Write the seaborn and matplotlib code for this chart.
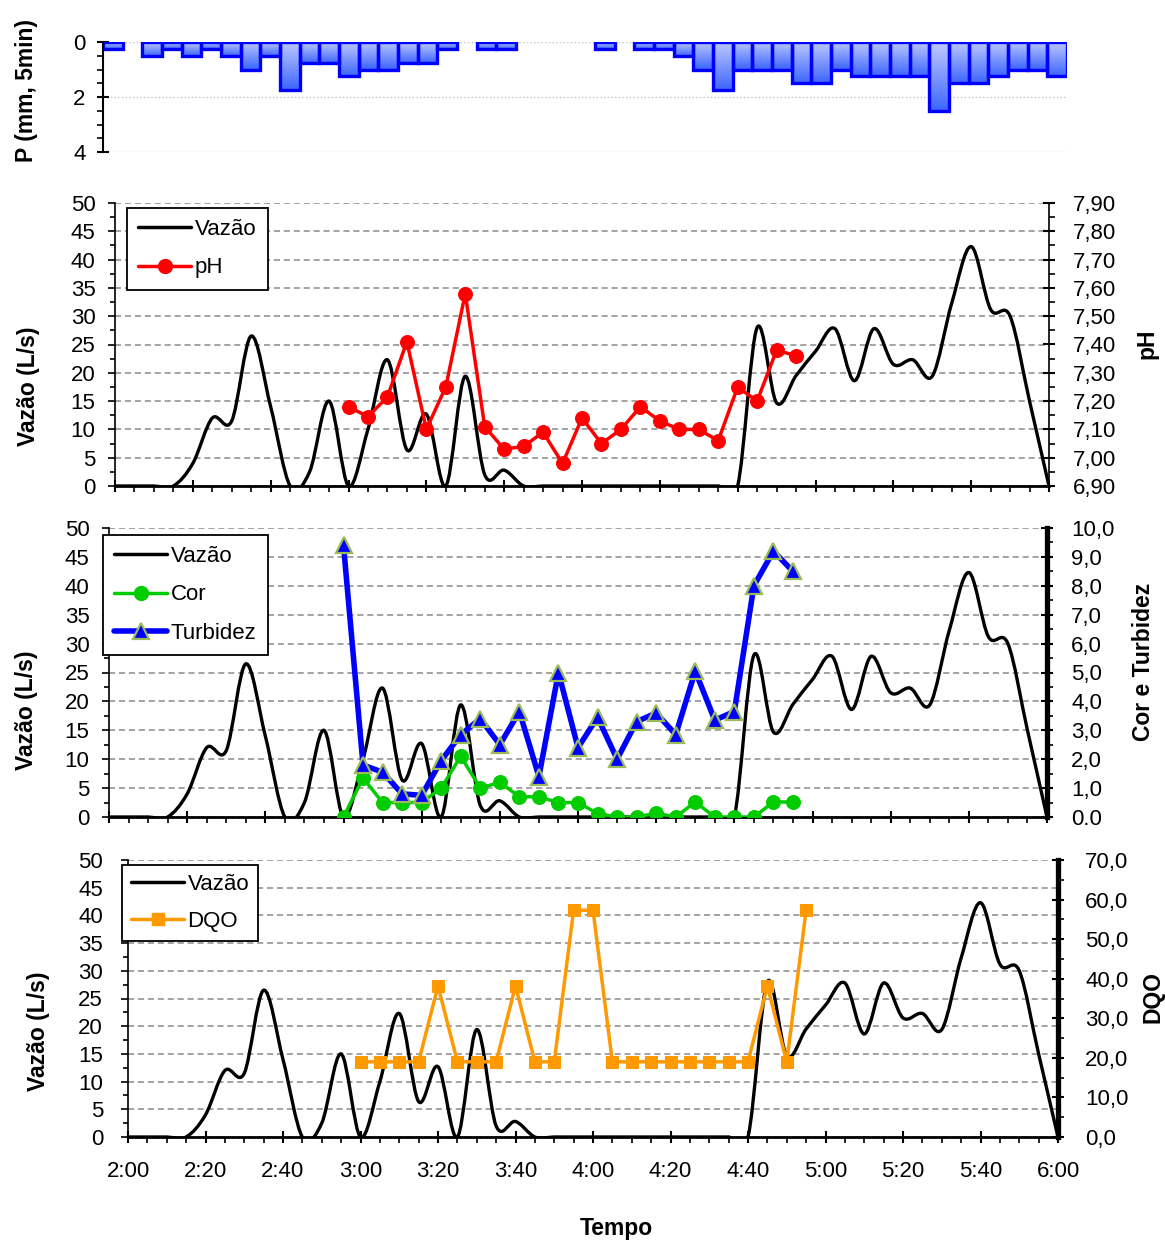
import numpy as np
import pandas as pd
import matplotlib
matplotlib.use("Agg")
import matplotlib.pyplot as plt
import seaborn as sns
from matplotlib.path import Path
from matplotlib.patches import PathPatch
from matplotlib.lines import Line2D
from matplotlib.ticker import MultipleLocator, FixedLocator, FixedFormatter

sns.set_theme(style="ticks")
plt.rcParams['font.family'] = ['Liberation Sans', 'DejaVu Sans']
plt.rcParams.update({'text.color': 'black', 'axes.labelcolor': 'black',
                     'xtick.color': 'black', 'ytick.color': 'black',
                     'axes.edgecolor': 'black'})

# ---------------- data ----------------
# precipitation per 5-min interval, 2:00 .. 6:00 (49 bars)
precip_mm = [0.25, 0, 0.5, 0.25, 0.5, 0.25, 0.5, 1.0, 0.5, 1.75, 0.75, 0.75, 1.25,
             1.0, 1.0, 0.75, 0.75, 0.25, 0, 0.25, 0.25, 0, 0, 0, 0, 0.25, 0,
             0.25, 0.25, 0.5, 1.0, 1.75, 1.0, 1.0, 1.0, 1.5, 1.5, 1.0, 1.25, 1.25,
             1.25, 1.25, 2.5, 1.5, 1.5, 1.25, 1.0, 1.0, 1.25]

# flow (minutes after 2:00)
vazao_min = list(range(0, 241, 5))
vazao = [0, 0, 0, 0, 4, 12, 11.5, 26.5, 14, 0, 2.5, 15, 0, 10, 22.3, 6.4, 12.7, 0,
         19.4, 2, 2.8, 0,
         0, 0, 0, 0, 0, 0, 0, 0, 0, 0,
         0, 28, 14.7, 19.5, 23.8, 27.8, 18.6, 27.8, 21.5, 22.3, 19.4, 32.3, 42.3,
         31.2, 30, 15, 0]

# water-quality samples 3:00 .. 4:55
quality_min = list(range(60, 176, 5))
ph = [7.18, 7.145, 7.215, 7.41, 7.10, 7.25, 7.58, 7.11, 7.03, 7.04, 7.09, 6.98,
      7.14, 7.05, 7.10, 7.18, 7.13, 7.10, 7.10, 7.06, 7.25, 7.20, 7.38, 7.36]
cor = [0.0, 1.35, 0.5, 0.5, 0.5, 1.0, 2.1, 1.0, 1.2, 0.7, 0.7, 0.5, 0.5, 0.12,
       0.0, 0.0, 0.13, 0.0, 0.52, 0.0, 0.0, 0.0, 0.52, 0.52]
turbidez = [9.4, 1.8, 1.55, 0.8, 0.75, 1.95, 2.85, 3.4, 2.5, 3.65, 1.4, 5.0, 2.4,
            3.45, 2.0, 3.3, 3.6, 2.85, 5.05, 3.35, 3.65, 8.0, 9.2, 8.5]
dqo = [19.0, 19.0, 19.0, 19.0, 38.2, 19.0, 19.0, 19.0, 38.2, 19.0, 19.0, 57.3,
       57.3, 19.0, 19.0, 19.0, 19.0, 19.0, 19.0, 19.0, 19.0, 38.2, 19.0, 57.3]

time_ticks = [0, 20, 40, 60, 80, 100, 120, 140, 160, 180, 200, 220, 240]
time_labels = ["2:00", "2:20", "2:40", "3:00", "3:20", "3:40", "4:00", "4:20",
               "4:40", "5:00", "5:20", "5:40", "6:00"]
ph_ticks = [6.9, 7.0, 7.1, 7.2, 7.3, 7.4, 7.5, 7.6, 7.7, 7.8, 7.9]
ph_labels = ["6,90", "7,00", "7,10", "7,20", "7,30", "7,40", "7,50", "7,60",
             "7,70", "7,80", "7,90"]
ct_ticks = [0, 1, 2, 3, 4, 5, 6, 7, 8, 9, 10]
ct_labels = ["0.0", "1,0", "2,0", "3,0", "4,0", "5,0", "6,0", "7,0", "8,0", "9,0",
             "10,0"]
dqo_ticks = [0, 10, 20, 30, 40, 50, 60, 70]
dqo_labels = ["0,0", "10,0", "20,0", "30,0", "40,0", "50,0", "60,0", "70,0"]

# ---------------- layout ----------------
W, H = 1165, 1241
fig = plt.figure(figsize=(W / 100, H / 100), dpi=100)


def rect(l, t, r, b):
    return [l / W, 1 - b / H, (r - l) / W, (b - t) / H]


FS = 16
GRID = dict(color='#8a8a8a', linestyle=(0, (4, 2.5)), linewidth=1.1)


def smooth_line(ax, x, y, **kw):
    x = np.asarray(x, float)
    y = np.asarray(y, float)
    n = len(x)
    verts = [(x[0], y[0])]
    codes = [Path.MOVETO]
    for i in range(n - 1):
        xm, ym = (x[i - 1], y[i - 1]) if i > 0 else (x[i], y[i])
        xp, yp = (x[i + 2], y[i + 2]) if i + 2 < n else (x[i + 1], y[i + 1])
        c1 = (x[i] + (x[i + 1] - xm) / 6, y[i] + (y[i + 1] - ym) / 6)
        c2 = (x[i + 1] - (xp - x[i]) / 6, y[i + 1] - (yp - y[i]) / 6)
        verts += [c1, c2, (x[i + 1], y[i + 1])]
        codes += [Path.CURVE4] * 3
    p = PathPatch(Path(verts, codes), fill=False, zorder=3, **kw)
    ax.add_patch(p)


def setup_flow_axis(ax, labels_on, lpad):
    ax.set_xlim(0, 240)
    ax.set_ylim(0, 50)
    ax.yaxis.set_major_locator(MultipleLocator(5))
    ax.yaxis.set_minor_locator(MultipleLocator(2.5))
    ax.xaxis.set_major_locator(FixedLocator(time_ticks))
    ax.xaxis.set_minor_locator(MultipleLocator(5))
    if labels_on:
        ax.xaxis.set_major_formatter(FixedFormatter(time_labels))
    else:
        ax.set_xticklabels([])
    ax.tick_params(axis='y', which='major', direction='out', length=5, width=1.2,
                   labelsize=FS, pad=lpad, left=True)
    ax.tick_params(axis='y', which='minor', direction='out', length=3.5, width=1.2, left=True)
    ax.tick_params(axis='x', which='major', direction='inout', length=9, width=1.5,
                   labelsize=FS, pad=13, bottom=True)
    ax.tick_params(axis='x', which='minor', direction='out', length=4, width=1.2, bottom=True)
    for s in ['top', 'right']:
        ax.spines[s].set_visible(False)
    ax.spines['left'].set_linewidth(1.2)
    ax.spines['bottom'].set_linewidth(2.0)
    ax.yaxis.grid(True, which='major', **GRID)
    ax.set_xlabel('')
    ax.set_ylabel('')
    smooth_line(ax, vazao_min, vazao, edgecolor='black', linewidth=2.4,
                capstyle='round', joinstyle='round')


def setup_right(axr, ticks, labels, lim, minor, thick, rpad):
    axr.set_ylim(*lim)
    axr.yaxis.set_major_locator(FixedLocator(ticks))
    axr.yaxis.set_major_formatter(FixedFormatter(labels))
    axr.yaxis.set_minor_locator(MultipleLocator(minor))
    axr.tick_params(axis='y', which='major', direction='inout', length=9, width=1.5,
                    labelsize=FS, pad=rpad, right=True)
    axr.tick_params(axis='y', which='minor', direction='out', length=4, width=1.2, right=True)
    for s in ['top', 'left', 'bottom']:
        axr.spines[s].set_visible(False)
    axr.spines['right'].set_linewidth(3.8 if thick else 1.2)
    axr.set_ylabel('')
    axr.set_xlabel('')


def make_legend(axr, handles, labels, x, y, spacing, bpad):
    leg = axr.legend(handles, labels, loc='upper left',
                     bbox_to_anchor=(x / W, 1 - y / H), bbox_transform=fig.transFigure,
                     fontsize=FS, frameon=True, fancybox=False, framealpha=1,
                     edgecolor='black', borderaxespad=0, handlelength=2.4,
                     handletextpad=0.15, labelspacing=spacing, borderpad=bpad)
    leg.get_frame().set_linewidth(1.3)
    return leg


# ---------------- panel 1: precipitation ----------------
ax1 = fig.add_axes(rect(103, 42, 1067, 152))
bar_idx = list(range(len(precip_mm)))
sns.barplot(x=bar_idx, y=precip_mm, ax=ax1, width=1.0, color='#8fa0ff',
            edgecolor='#0000ff', linewidth=2.4, saturation=1)
top_c = np.array([0.75, 0.79, 1.0])
bot_c = np.array([0.24, 0.40, 1.0])
grad = np.linspace(0, 1, 64)[:, None, None] * (bot_c - top_c) + top_c
for p in list(ax1.patches):
    h = p.get_height()
    if h == 0:
        p.set_visible(False)
        continue
    x0 = p.get_x()
    w = p.get_width()
    im = ax1.imshow(grad, extent=(x0, x0 + w, h, 0), origin='upper', aspect='auto',
                    zorder=1.9, interpolation='bilinear')
    im.set_clip_path(p)
    p.set_facecolor('none')
    p.set_zorder(2)
ax1.set_xlim(-0.5, len(precip_mm) - 0.5)
ax1.set_ylim(4, 0)
ax1.yaxis.set_major_locator(FixedLocator([0, 2, 4]))
ax1.yaxis.set_minor_locator(MultipleLocator(0.5))
ax1.tick_params(axis='y', which='major', direction='inout', length=9, width=1.5,
                labelsize=FS, pad=8, left=True)
ax1.tick_params(axis='y', which='minor', direction='out', length=4, width=1.2, left=True)
ax1.tick_params(axis='x', bottom=False, labelbottom=False)
for s in ['top', 'right', 'bottom']:
    ax1.spines[s].set_visible(False)
ax1.spines['left'].set_linewidth(1.5)
ax1.yaxis.grid(True, which='major', color='#c4c4c4', linestyle=':', linewidth=1.0)
ax1.set_axisbelow(True)
ax1.set_xlabel('')
ax1.set_ylabel('')

# ---------------- panel 2: pH ----------------
ax2 = fig.add_axes(rect(115, 203, 1049, 486))
setup_flow_axis(ax2, False, 9)
ax2r = ax2.twinx()
sns.lineplot(x=quality_min, y=ph, ax=ax2r, color='#ff0000', linewidth=2.5,
             marker='o', markersize=10, markeredgecolor='#ff0000', legend=False)
setup_right(ax2r, ph_ticks, ph_labels, (6.9, 7.9), 0.05, False, 13)
ax2r.set_xlim(0, 240)
h2 = [Line2D([], [], color='black', lw=2.5),
      Line2D([], [], color='#ff0000', lw=2.5, marker='o', markersize=10)]
make_legend(ax2r, h2, ['Vazão', 'pH'], 127, 208, 0.78, 0.5)

# ---------------- panel 3: Cor e Turbidez ----------------
ax3 = fig.add_axes(rect(109, 528, 1047, 817))
setup_flow_axis(ax3, False, 9)
ax3r = ax3.twinx()
sns.lineplot(x=quality_min, y=cor, ax=ax3r, color='#00cc00', linewidth=2.5,
             marker='o', markersize=10, markeredgecolor='#00cc00', legend=False)
sns.lineplot(x=quality_min, y=turbidez, ax=ax3r, color='#0000ff', linewidth=4,
             marker='^', markersize=11, markerfacecolor='#0000ff',
             markeredgecolor='#9bbb59', markeredgewidth=1.6, legend=False)
setup_right(ax3r, ct_ticks, ct_labels, (0, 10), 0.5, True, 13)
ax3r.set_xlim(0, 240)
h3 = [Line2D([], [], color='black', lw=2.5),
      Line2D([], [], color='#00cc00', lw=2.5, marker='o', markersize=10),
      Line2D([], [], color='#0000ff', lw=4, marker='^', markersize=11,
             markerfacecolor='#0000ff', markeredgecolor='#9bbb59', markeredgewidth=1.6)]
make_legend(ax3r, h3, ['Vazão', 'Cor', 'Turbidez'], 103, 535, 0.78, 0.5)

# ---------------- panel 4: DQO ----------------
ax4 = fig.add_axes(rect(128, 860, 1058, 1137))
setup_flow_axis(ax4, True, 13)
ax4r = ax4.twinx()
sns.lineplot(x=quality_min, y=dqo, ax=ax4r, color='#ff9900', linewidth=2.5,
             marker='s', markersize=8, markeredgecolor='#ff9900', legend=False)
setup_right(ax4r, dqo_ticks, dqo_labels, (0, 70), 5, True, 15)
ax4r.set_xlim(0, 240)
h4 = [Line2D([], [], color='black', lw=2.5),
      Line2D([], [], color='#ff9900', lw=2.5, marker='s', markersize=8)]
make_legend(ax4r, h4, ['Vazão', 'DQO'], 122, 865, 0.72, 0.4)

# ---------------- axis titles ----------------
LFS = 16.5
fig.text(27 / W, 1 - 91 / H, 'P (mm, 5min)', rotation=90, ha='center', va='center',
         fontsize=LFS, fontweight='bold')
fig.text(28 / W, 1 - 386 / H, 'Vazão (L/s)', rotation=90, ha='center', va='center',
         fontsize=LFS, fontweight='bold')
fig.text(26 / W, 1 - 710 / H, 'Vazão (L/s)', rotation=90, ha='center', va='center',
         fontsize=LFS, fontweight='bold')
fig.text(38 / W, 1 - 1031 / H, 'Vazão (L/s)', rotation=90, ha='center', va='center',
         fontsize=LFS, fontweight='bold')
fig.text(1147 / W, 1 - 344 / H, 'pH', rotation=90, ha='center', va='center',
         fontsize=LFS, fontweight='bold')
fig.text(1143 / W, 1 - 662 / H, 'Cor e Turbidez', rotation=90, ha='center', va='center',
         fontsize=LFS, fontweight='bold')
fig.text(1153 / W, 1 - 997 / H, 'DQO', rotation=90, ha='center', va='center',
         fontsize=LFS, fontweight='bold')
fig.text(616 / W, 1 - 1228 / H, 'Tempo', ha='center', va='center',
         fontsize=LFS, fontweight='bold')

fig.savefig('out.png', dpi=100, facecolor='white')
